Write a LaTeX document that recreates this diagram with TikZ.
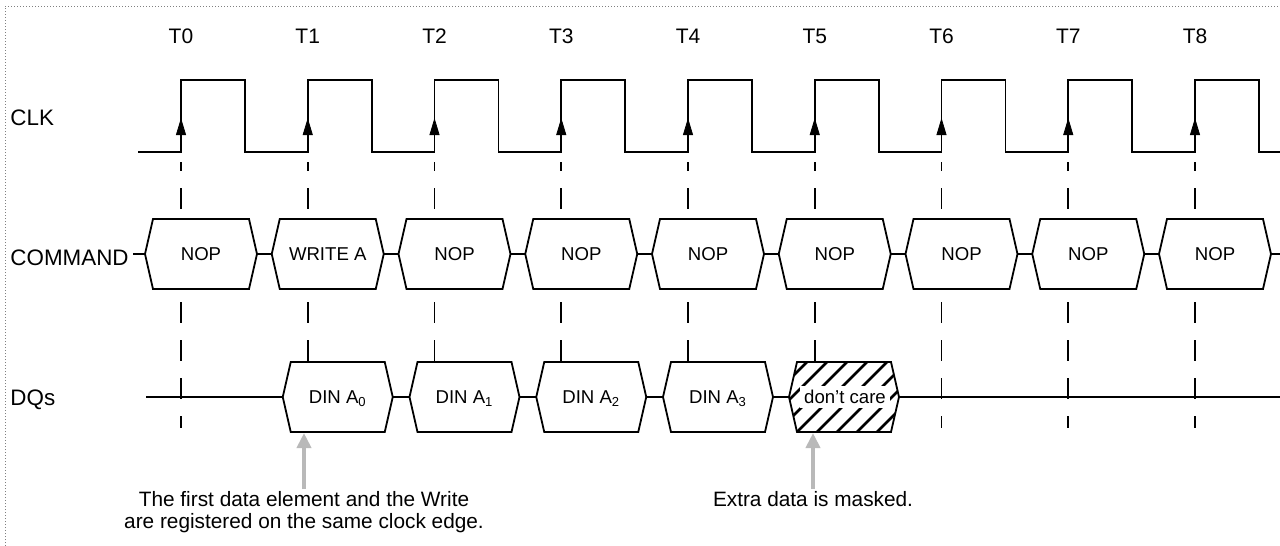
\documentclass[tikz,border=0pt]{standalone}
\usepackage{fontspec}
\setmainfont{Liberation Sans}
\usetikzlibrary{arrows.meta}

\tikzset{
  wave/.style={line width=0.9pt},
  busline/.style={line width=0.8pt},
  bus/.style={draw, line width=0.9pt, fill=white},
  clkmark/.style={-{Triangle[length=8.5pt,width=5pt]}},
  guide/.style={line width=0.9pt, dash pattern=on 10.5pt off 8.5pt, dash phase=6pt},
  sig/.style={font=\fontsize{11.2}{13}\selectfont, inner sep=0pt, anchor=base west},
  tlbl/.style={font=\fontsize{10.5}{12}\selectfont, inner sep=0pt, anchor=base},
  val/.style={font=\fontsize{9.3}{11}\selectfont, inner sep=0pt, anchor=base},
  note/.style={font=\fontsize{10.4}{11}\selectfont, inner sep=1pt, align=center, anchor=north},
  notearrow/.style={draw=gray!55, line width=2pt, -{Triangle[length=7.5pt,width=7pt,fill=gray!55]}},
  pageframe/.style={gray, densely dotted, line width=0.5pt}
}

%% hexagon bus value: left tip, right tip, middle y
\newcommand{\hexbox}[3]{%
  \draw[bus] (#1,#3) -- (#1+8,#3-35) -- (#2-8,#3-35) -- (#2,#3) -- (#2-8,#3+35) -- (#1+8,#3+35) -- cycle;}

\begin{document}
\begin{tikzpicture}[x=0.5pt, y=-0.5pt]
  \useasboundingbox (0,0) rectangle (1280,546);

  %% Frame
  \draw[pageframe] (5,546) -- (5,6) -- (1280,6);

  %% Signal names
  \node[sig] (clk) at (10,125) {CLK};
  \node[sig] (cmd) at (10,265) {COMMAND};
  \node[sig] (dqs) at (10,405) {DQs};

  %% Clock
  \draw[wave] (138,152) foreach \i in {0,...,8} {-- ({181+126.75*\i},152) -- ++(0,-72) -- ++(64,0) -- ++(0,72)} -- (1280,152);

  %% Edges, names and guides
  \foreach \i in {0,...,8} {
    \pgfmathsetmacro{\tx}{181+126.75*\i}
    \node[tlbl] (t\i) at (\tx,43) {T\i};
    \draw[clkmark] (\tx,140) -- (\tx,118);
    \draw[guide] (\tx,162) -- (\tx,428);
  }

  %% Bus lines
  \draw[busline] (133,254) -- (1280,254);
  \draw[busline] (146,397) -- (1280,397);

  %% Commands
  \foreach \i/\op in {0/NOP,1/WRITE A,2/NOP,3/NOP,4/NOP,5/NOP,6/NOP,7/NOP,8/NOP} {
    \pgfmathsetmacro{\tx}{181+126.75*\i}
    \hexbox{\tx-36}{\tx+76}{254}
    \node[val] (op\i) at (\tx+20,260.5) {\op};
  }

  %% Data
  \foreach \i/\d in {1/0,2/1,3/2,4/3} {
    \pgfmathsetmacro{\tx}{181+126.75*\i}
    \hexbox{\tx-25}{\tx+85}{397}
    \node[val] (din\d) at (\tx+30,403.5) {DIN A\textsubscript{\d}};
  }

  %% Masked slot
  \hexbox{789}{899}{397}
  \begin{scope}
    \clip (789,397) -- (797,362) -- (891,362) -- (899,397) -- (891,432) -- (797,432) -- cycle;
    \foreach \k in {-4,...,6} \draw[line width=1.3pt] ({797+20*\k},432) -- ++(80,-80);
  \end{scope}
  \node[val, fill=white, inner sep=2pt] (dc) at (845,403.5) {don't care};

  %% Notes
  \coordinate (hitA) at (304,433);
  \coordinate (hitB) at (813,433);
  \node[note] (noteA) at (304,489) {The first data element and the Write\\are registered on the same clock edge.};
  \node[note] (noteB) at (813,489) {Extra data is masked.};
  \draw[notearrow] (noteA.north) -- (hitA);
  \draw[notearrow] (noteB.north) -- (hitB);

\end{tikzpicture}
\end{document}
